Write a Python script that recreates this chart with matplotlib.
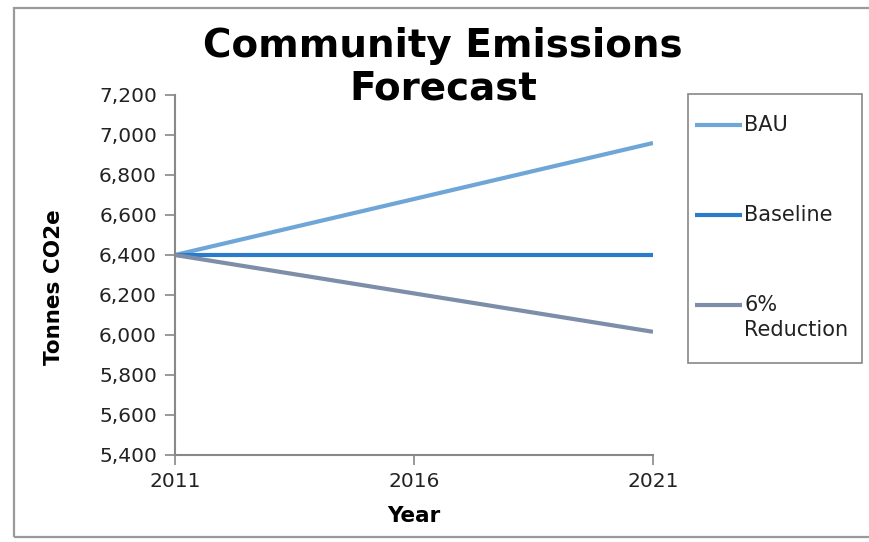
import matplotlib.pyplot as plt
from matplotlib.patches import Rectangle
from matplotlib.lines import Line2D
from matplotlib.ticker import FuncFormatter

# forecast series, tonnes CO2e
years = [2011, 2016, 2021]
bau = [6400, 6680, 6960]
baseline = [6400, 6400, 6400]
reduction = [6400, 6208, 6016]
labels = ['BAU', 'Baseline', '6%\nReduction']
colors = ['#6fa6d8', '#2b7bcb', '#7e8ea8']

plt.rcParams['font.family'] = 'DejaVu Sans'

W, H = 869, 542
fig = plt.figure(figsize=(W / 100, H / 100), dpi=100)


def fx(px):
    return px / W


def fy(py):
    return 1 - py / H


# outer chart frame
fig.patches.append(Rectangle((fx(14.5), fy(537)), 1.0, (537 - 8) / H, transform=fig.transFigure,
                             fill=False, edgecolor='#9a9a9a', linewidth=1.6))

ax = fig.add_axes([fx(175), fy(455), (653 - 175) / W, (455 - 95) / H])
for series, lab, col in zip([bau, baseline, reduction], labels, colors):
    ax.plot(years, series, color=col, linewidth=3, label=lab, solid_capstyle='butt')

ax.set_xlim(2011, 2021)
ax.set_ylim(5400, 7200)
ax.set_xticks(years)
ax.set_yticks(range(5400, 7201, 200))
ax.yaxis.set_major_formatter(FuncFormatter(lambda v, p: f'{int(v):,}'))
ax.tick_params(axis='both', labelsize=14.5, colors='#888888', labelcolor='#222222',
               length=7, width=1.2, direction='out')
ax.tick_params(axis='x', pad=5)
ax.tick_params(axis='y', pad=6)
for s in ['top', 'right']:
    ax.spines[s].set_visible(False)
for s in ['left', 'bottom']:
    ax.spines[s].set_color('#888888')
    ax.spines[s].set_linewidth(1.5)

ax.set_xlabel('Year', fontsize=15.5, fontweight='bold', labelpad=11)
ax.set_ylabel('Tonnes CO2e', fontsize=15.5, fontweight='bold')
ax.yaxis.set_label_coords((64 - 175) / 478, (455 - 287) / 360)

fig.text(fx(443), fy(57), 'Community Emissions', ha='center', va='baseline',
         fontsize=28, fontweight='bold')
fig.text(fx(443), fy(100), 'Forecast', ha='center', va='baseline',
         fontsize=28, fontweight='bold')

# legend box; each handle sits level with the first line of its label
fig.patches.append(Rectangle((fx(688), fy(363)), (862 - 688) / W, (363 - 94) / H,
                             transform=fig.transFigure, fill=False,
                             edgecolor='#888888', linewidth=1.2))
for lab, col, yc in zip(labels, colors, [125, 215, 305]):
    fig.add_artist(Line2D([fx(695), fx(742)], [fy(yc), fy(yc)], transform=fig.transFigure,
                          color=col, linewidth=3, solid_capstyle='butt'))
    fig.text(fx(744), fy(yc - 10), lab, ha='left', va='top', fontsize=15,
             linespacing=1.3, color='#222222')

fig.savefig('out.png', dpi=100)
